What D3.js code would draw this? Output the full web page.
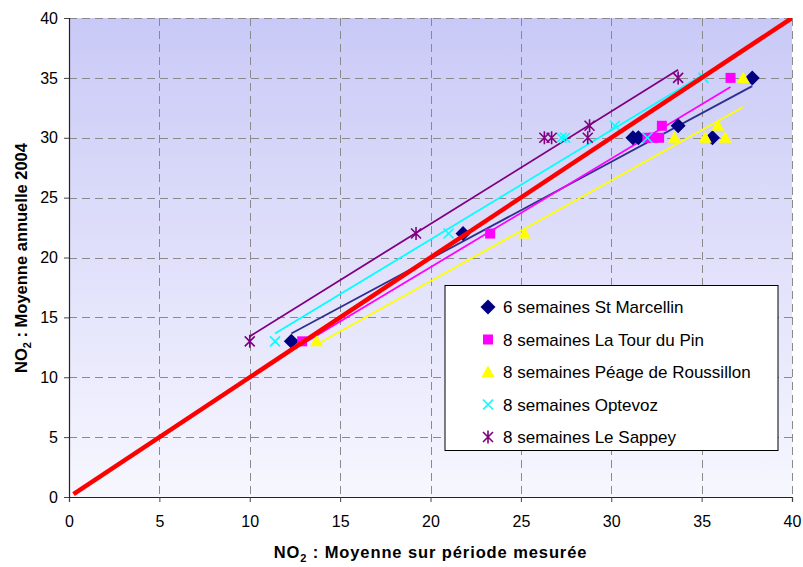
<!DOCTYPE html>
<html><head><meta charset="utf-8">
<script src="https://cdn.jsdelivr.net/npm/d3@7"></script>
<style>body{margin:0;background:#fff} svg{display:block} text{font-family:"Liberation Sans",Arial,sans-serif}</style>
</head><body><svg id="c" width="803" height="567"></svg>
<script>
// ---- data ----
const seriesNames = ["6 semaines St Marcellin","8 semaines La Tour du Pin","8 semaines Péage de Roussillon","8 semaines Optevoz","8 semaines Le Sappey"];
const stMarcellinX = [12.3, 21.8, 31.2, 31.5, 33.7, 35.6, 37.8];
const stMarcellinY = [13, 22, 30, 30, 31, 30, 35];
const laTourX = [12.9, 23.3, 32.0, 32.3, 32.65, 32.8, 36.6];
const laTourY = [13, 22, 30, 30, 30, 31, 35];
const peageX = [13.7, 25.2, 33.5, 35.2, 36.3, 35.9, 37.3];
const peageY = [13, 22, 30, 30, 30, 31, 35];
const optevozX = [11.4, 21.0, 27.25, 27.45, 30.2, 32.0, 35.1];
const optevozY = [13, 22, 30, 30, 31, 30, 35];
const sappeyX = [10.0, 19.2, 26.3, 26.7, 28.7, 28.8, 33.7];
const sappeyY = [13, 22, 30, 30, 30, 31, 35];
const identityX = [0.25, 40];
const xTickValues = [0,5,10,15,20,25,30,35,40];
const yTickValues = [0,5,10,15,20,25,30,35,40];
const xTitle = ["NO", "2", " : Moyenne sur période mesurée"];
const yTitle = ["NO", "2", " : Moyenne annuelle 2004"];

// ---- styles ----
const seriesStyle = [
  {marker:"diamond", color:"#000080", trend:"#2f2f8f"},
  {marker:"square", color:"#ff00ff", trend:"#ff00ff"},
  {marker:"triangle", color:"#ffff00", trend:"#ffff00"},
  {marker:"x", color:"#00ffff", trend:"#00ffff"},
  {marker:"star", color:"#800080", trend:"#800080"}
];
const seriesData = [
  [stMarcellinX, stMarcellinY],[laTourX, laTourY],[peageX, peageY],[optevozX, optevozY],[sappeyX, sappeyY]
];

const svg = d3.select("#c");
const L=69, R=792, T=18, B=497;
const x = d3.scaleLinear().domain([0,40]).range([L,R]);
const y = d3.scaleLinear().domain([0,40]).range([B,T]);

// background gradient
const defs = svg.append("defs");
const grad = defs.append("linearGradient").attr("id","bg").attr("x1",0).attr("y1",0).attr("x2",0).attr("y2",1);
grad.append("stop").attr("offset","0%").attr("stop-color","#c9c9f7");
grad.append("stop").attr("offset","100%").attr("stop-color","#f7f7ff");
defs.append("clipPath").attr("id","clip").append("rect").attr("x",L).attr("y",T).attr("width",R-L).attr("height",B-T);
svg.append("rect").attr("x",L).attr("y",T).attr("width",R-L).attr("height",B-T).attr("fill","url(#bg)");

// gridlines
const grid = svg.append("g").attr("stroke","#8a8a8a").attr("stroke-width",1).attr("stroke-dasharray","8,5");
grid.selectAll("line.v").data(xTickValues.filter(d=>d>0)).join("line")
  .attr("x1",d=>Math.round(x(d))+0.5).attr("x2",d=>Math.round(x(d))+0.5).attr("y1",T).attr("y2",B);
grid.selectAll("line.h").data(yTickValues.filter(d=>d>0)).join("line").attr("class","h")
  .attr("y1",d=>Math.round(y(d))+0.5).attr("y2",d=>Math.round(y(d))+0.5).attr("x1",L).attr("x2",R);

// trendlines (least squares over each series' x range)
function fit(xs, ys){
  const mx=d3.mean(xs), my=d3.mean(ys);
  let sxy=0,sxx=0; xs.forEach((v,i)=>{sxy+=(v-mx)*(ys[i]-my); sxx+=(v-mx)*(v-mx);});
  const m=sxy/sxx, b=my-m*mx; const [x0,x1]=d3.extent(xs);
  return [[x0,m*x0+b],[x1,m*x1+b]];
}
const plot = svg.append("g").attr("clip-path","url(#clip)");
const line = d3.line().x(d=>x(d[0])).y(d=>y(d[1]));
seriesData.forEach((s,i)=>{
  plot.append("path").attr("d",line(fit(s[0],s[1]))).attr("fill","none")
    .attr("stroke",seriesStyle[i].trend).attr("stroke-width",1.8);
});

// markers
function markerPath(type){
  switch(type){
    case "diamond": return "M0,-7.5L7.5,0L0,7.5L-7.5,0Z";
    case "square": return "M-5,-5H5V5H-5Z";
    case "triangle": return "M0,-6.5L6.5,5L-6.5,5Z";
    case "x": return "M-5,-5L5,5M-5,5L5,-5";
    case "star": return "M-5,-5L5,5M-5,5L5,-5M0,-6.5V6.5";
  }
}
function drawMarker(g, type, color){
  const stroke = (type==="x"||type==="star");
  g.append("path").attr("d",markerPath(type))
    .attr("fill", stroke?"none":color).attr("stroke", stroke?color:"none").attr("stroke-width",1.6);
}
seriesData.forEach((s,i)=>{
  s[0].forEach((xv,j)=>{
    const g = plot.append("g").attr("transform",`translate(${x(xv)},${y(s[1][j])})`);
    drawMarker(g, seriesStyle[i].marker, seriesStyle[i].color);
  });
});

// identity line y = x
plot.append("path").attr("d",line(identityX.map(v=>[v,v]))).attr("stroke","#ff0000").attr("stroke-width",4.5).attr("fill","none");

// axes
const ax = svg.append("g").attr("transform",`translate(0,${B})`)
  .call(d3.axisBottom(x).tickValues(xTickValues).tickSize(5).tickPadding(14).tickFormat(d3.format("d")));
const ay = svg.append("g").attr("transform",`translate(${L},0)`)
  .call(d3.axisLeft(y).tickValues(yTickValues).tickSize(5).tickPadding(6).tickFormat(d3.format("d")));
[ax,ay].forEach(a=>{
  a.selectAll("path.domain").attr("stroke","#222").attr("stroke-width",1.2);
  a.selectAll(".tick line").attr("stroke","#444");
  a.selectAll("text").attr("font-size",16).attr("fill","#000").attr("font-family",'"Liberation Sans",Arial,sans-serif');
});

// axis titles
function title(g, parts, spacing){
  const t = g.append("text").attr("text-anchor","middle").attr("font-weight","bold").attr("font-size",16.5).attr("letter-spacing",spacing);
  t.append("tspan").text(parts[0]);
  t.append("tspan").attr("font-size",11).attr("dy",4).text(parts[1]);
  t.append("tspan").attr("dy",-4).text(parts[2]);
  return t;
}
title(svg.append("g").attr("transform",`translate(${(L+R)/2},558)`), xTitle, "0.9px");
title(svg.append("g").attr("transform",`translate(27,258) rotate(-90)`), yTitle, "0px");

// legend
const lg = svg.append("g").attr("transform","translate(445,285.5)");
lg.append("rect").attr("width",333).attr("height",165).attr("fill","#fff").attr("stroke","#000").attr("stroke-width",1);
seriesNames.forEach((n,i)=>{
  const row = lg.append("g").attr("transform",`translate(43,${21.5+i*32.5})`);
  drawMarker(row.append("g"), seriesStyle[i].marker, seriesStyle[i].color);
  row.append("text").attr("x",15).attr("y",6).attr("font-size",17).attr("fill","#000").text(n);
});
</script></body></html>
